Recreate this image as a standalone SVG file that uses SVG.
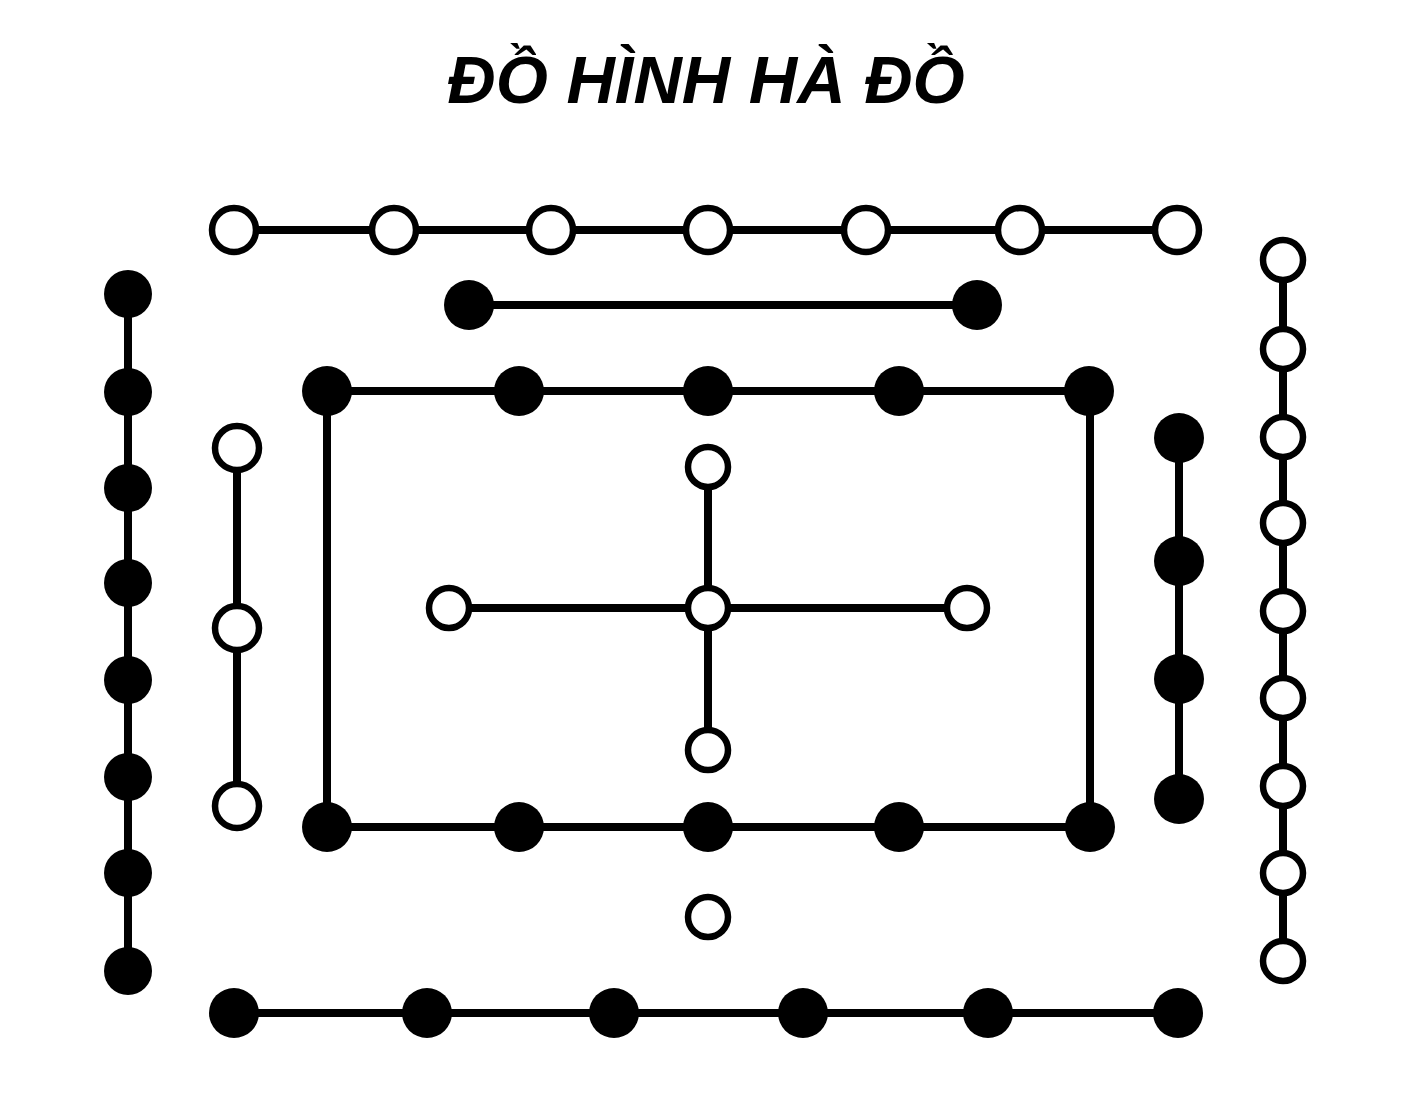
<svg xmlns="http://www.w3.org/2000/svg" width="1416" height="1111" viewBox="0 0 1416 1111">
<style>
.ln{stroke:#000;stroke-width:8;fill:none;stroke-linecap:butt}
.o{fill:#fff;stroke:#000;stroke-width:6.5}
.b{fill:#000}
.t{font-family:"Liberation Sans",Arial,sans-serif;font-weight:bold;font-style:italic;font-size:67px;fill:#000}
</style>
<rect width="1416" height="1111" fill="#fff"/>
<text class="t" x="706" y="103" text-anchor="middle">ĐỒ HÌNH HÀ ĐỒ</text>
<g id="connectors">
<line class="ln" x1="234" y1="230" x2="1177" y2="230"/>
<line class="ln" x1="469" y1="305" x2="977" y2="305"/>
<rect class="ln" x="327" y="391" width="763" height="436"/>
<line class="ln" x1="128" y1="294" x2="128" y2="971"/>
<line class="ln" x1="237" y1="448" x2="237" y2="806"/>
<line class="ln" x1="1179" y1="438" x2="1179" y2="799"/>
<line class="ln" x1="1283" y1="260" x2="1283" y2="961"/>
<line class="ln" x1="234" y1="1013" x2="1178" y2="1013"/>
<line class="ln" x1="449" y1="608" x2="967" y2="608"/>
<line class="ln" x1="708" y1="467" x2="708" y2="750"/>
</g>
<g id="top-row-open">
<circle class="o" cx="234" cy="230" r="22"/>
<circle class="o" cx="394" cy="230" r="22"/>
<circle class="o" cx="551" cy="230" r="22"/>
<circle class="o" cx="708" cy="230" r="22"/>
<circle class="o" cx="866" cy="230" r="22"/>
<circle class="o" cx="1020" cy="230" r="22"/>
<circle class="o" cx="1177" cy="230" r="22"/>
</g>
<g id="top-bar-black">
<circle class="b" cx="469" cy="305" r="25"/>
<circle class="b" cx="977" cy="305" r="25"/>
</g>
<g id="rect-black">
<circle class="b" cx="327" cy="391" r="25"/>
<circle class="b" cx="519" cy="391" r="25"/>
<circle class="b" cx="708" cy="391" r="25"/>
<circle class="b" cx="899" cy="391" r="25"/>
<circle class="b" cx="1089" cy="391" r="25"/>
<circle class="b" cx="327" cy="827" r="25"/>
<circle class="b" cx="519" cy="827" r="25"/>
<circle class="b" cx="708" cy="827" r="25"/>
<circle class="b" cx="899" cy="827" r="25"/>
<circle class="b" cx="1090" cy="827" r="25"/>
</g>
<g id="left-col-black">
<circle class="b" cx="128" cy="294" r="24"/>
<circle class="b" cx="128" cy="392" r="24"/>
<circle class="b" cx="128" cy="488" r="24"/>
<circle class="b" cx="128" cy="583" r="24"/>
<circle class="b" cx="128" cy="680" r="24"/>
<circle class="b" cx="128" cy="777" r="24"/>
<circle class="b" cx="128" cy="873" r="24"/>
<circle class="b" cx="128" cy="971" r="24"/>
</g>
<g id="left-col-open">
<circle class="o" cx="237" cy="448" r="22"/>
<circle class="o" cx="237" cy="628" r="22"/>
<circle class="o" cx="237" cy="806" r="22"/>
</g>
<g id="right-col-black">
<circle class="b" cx="1179" cy="438" r="25"/>
<circle class="b" cx="1179" cy="561" r="25"/>
<circle class="b" cx="1179" cy="679" r="25"/>
<circle class="b" cx="1179" cy="799" r="25"/>
</g>
<g id="right-col-open">
<circle class="o" cx="1283" cy="260" r="20"/>
<circle class="o" cx="1283" cy="349" r="20"/>
<circle class="o" cx="1283" cy="437" r="20"/>
<circle class="o" cx="1283" cy="523" r="20"/>
<circle class="o" cx="1283" cy="611" r="20"/>
<circle class="o" cx="1283" cy="698" r="20"/>
<circle class="o" cx="1283" cy="786" r="20"/>
<circle class="o" cx="1283" cy="873" r="20"/>
<circle class="o" cx="1283" cy="961" r="20"/>
</g>
<g id="bottom-row-black">
<circle class="b" cx="234" cy="1013" r="25"/>
<circle class="b" cx="427" cy="1013" r="25"/>
<circle class="b" cx="614" cy="1013" r="25"/>
<circle class="b" cx="803" cy="1013" r="25"/>
<circle class="b" cx="988" cy="1013" r="25"/>
<circle class="b" cx="1178" cy="1013" r="25"/>
</g>
<g id="center-cross-open">
<circle class="o" cx="708" cy="608" r="20"/>
<circle class="o" cx="708" cy="467" r="20"/>
<circle class="o" cx="708" cy="750" r="20"/>
<circle class="o" cx="449" cy="608" r="20"/>
<circle class="o" cx="967" cy="608" r="20"/>
</g>
<g id="bottom-single-open">
<circle class="o" cx="708" cy="917" r="20"/>
</g>
</svg>
